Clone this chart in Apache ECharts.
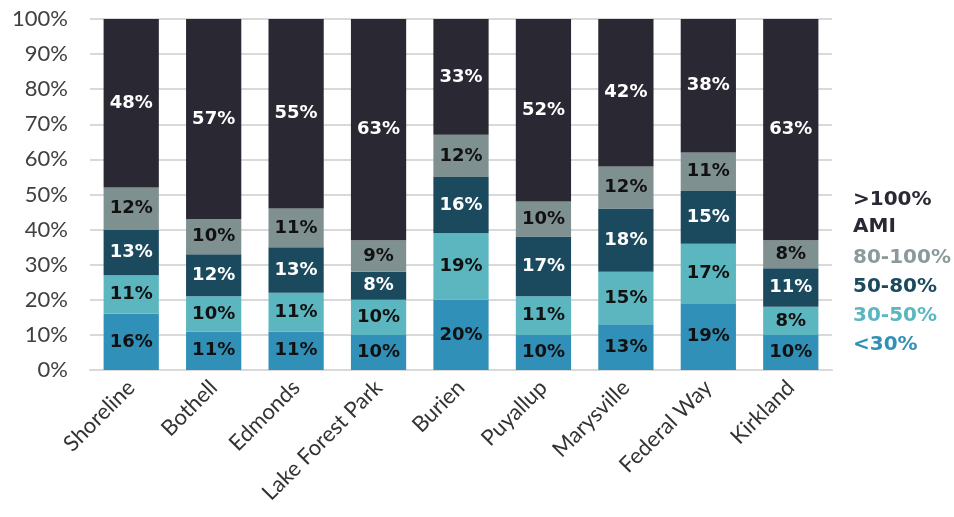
<!DOCTYPE html>
<html><head><meta charset="utf-8">
<script src="https://cdn.jsdelivr.net/npm/echarts@6/dist/echarts.min.js"></script>
<style>html,body{margin:0;padding:0;background:#fff}#c{width:954px;height:517px}</style>
</head><body><div id="c"></div>
<script>
const categories = ["Shoreline","Bothell","Edmonds","Lake Forest Park","Burien","Puyallup","Marysville","Federal Way","Kirkland"];
const lt30   = [16,11,11,10,20,10,13,19,10];
const s30_50 = [11,10,11,10,19,11,15,17,8];
const s50_80 = [13,12,13,8,16,17,18,15,11];
const s80_100= [12,10,11,9,12,10,12,11,8];
const gt100  = [48,57,55,63,33,52,42,38,63];
const yTicks = [0,10,20,30,40,50,60,70,80,90,100];

const font = "Lato, 'Open Sans', sans-serif";
const bold = "'DejaVu Sans', sans-serif";
function mk(name, data, color, labelColor){
  return {name, type:'bar', stack:'t', data, barCategoryGap:'33%',
    itemStyle:{color},
    label:{show:true, position:'inside', formatter:'{c}%', color:labelColor, fontFamily:bold, fontWeight:'bold', fontSize:18}};
}
const chart = echarts.init(document.getElementById('c'));
chart.setOption({
  animation:false,
  grid:{left:90,right:122,top:19,bottom:147},
  legend:{
    orient:'vertical', left:843, top:181, itemGap:7, icon:'none', itemWidth:0, itemHeight:0,
    selectedMode:false,
    textStyle:{fontFamily:bold, fontSize:20, fontWeight:'bold', lineHeight:22},
    data:[
      {name:'>100%\nAMI', textStyle:{color:'#2a2833', lineHeight:27}},
      {name:'80-100%', textStyle:{color:'#8a9a9b'}},
      {name:'50-80%', textStyle:{color:'#1b4a5e'}},
      {name:'30-50%', textStyle:{color:'#5bb6c0'}},
      {name:'<30%', textStyle:{color:'#3190b8'}}
    ]
  },
  xAxis:{type:'category', data:categories,
    axisLine:{show:true, lineStyle:{color:'#d9d9d9', width:2}}, axisTick:{show:false},
    axisLabel:{rotate:45, interval:0, color:'#333', fontFamily:font, fontSize:22, margin:14}},
  yAxis:{type:'value', min:0, max:100, interval:10,
    axisLine:{show:false}, axisTick:{show:false},
    splitLine:{lineStyle:{color:'#d9d9d9', width:2}},
    axisLabel:{formatter:v=>yTicks.includes(v)?v+'%':'', color:'#404040', fontFamily:font, fontSize:22, margin:22}},
  series:[
    mk('<30%', lt30, '#3190b8', '#111'),
    mk('30-50%', s30_50, '#5bb6c0', '#111'),
    mk('50-80%', s50_80, '#1b4a5e', '#fff'),
    mk('80-100%', s80_100, '#7f9091', '#111'),
    mk('>100%\nAMI', gt100, '#2a2833', '#fff')
  ]
});
</script></body></html>
